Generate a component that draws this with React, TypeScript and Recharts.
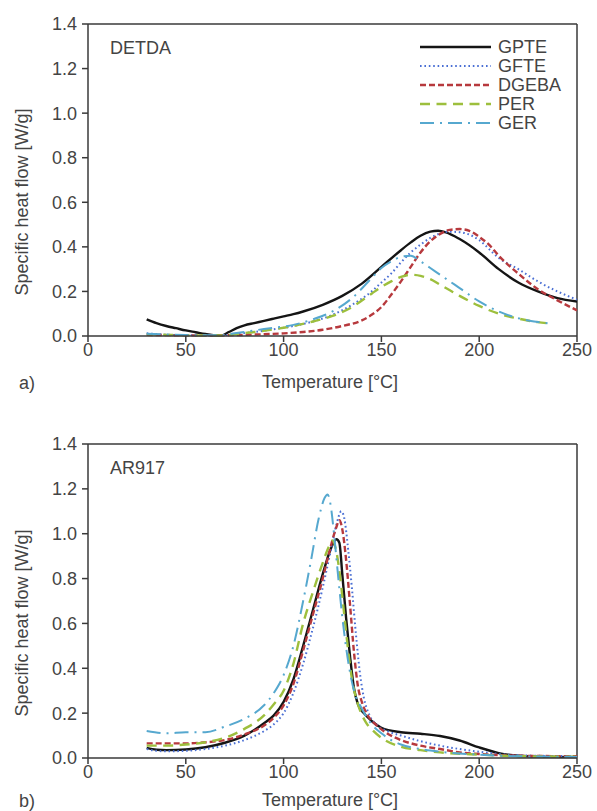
import React from 'react';
import { LineChart, Line, XAxis, YAxis, ReferenceLine } from 'recharts';

type Pt = [number, number];

// x ticks / y ticks
const tempTicks = [0, 50, 100, 150, 200, 250];
const flowTicks = [0, 0.2, 0.4, 0.6, 0.8, 1.0, 1.2, 1.4];

const seriesNames = ['GPTE', 'GFTE', 'DGEBA', 'PER', 'GER'];

// a) DETDA  [temperature °C, W/g]
const detdaGPTE: Pt[] = [[30, 0.075], [35, 0.058], [40, 0.045], [45, 0.035], [50, 0.025], [55, 0.017], [60, 0.009], [65, 0.003], [68, 0.002], [72, 0.018], [76, 0.035], [80, 0.048], [85, 0.058], [90, 0.068], [95, 0.078], [100, 0.088], [105, 0.098], [110, 0.11], [120, 0.14], [130, 0.18], [140, 0.235], [150, 0.31], [160, 0.385], [165, 0.42], [170, 0.45], [175, 0.468], [179, 0.472], [183, 0.465], [190, 0.435], [200, 0.375], [210, 0.3], [220, 0.24], [230, 0.2], [240, 0.17], [250, 0.155]];
const detdaGFTE: Pt[] = [[30, 0.012], [40, 0.006], [50, 0.004], [60, 0.002], [68, 0.002], [75, 0.008], [85, 0.018], [95, 0.03], [105, 0.045], [115, 0.065], [125, 0.095], [135, 0.14], [145, 0.2], [150, 0.24], [155, 0.28], [160, 0.33], [165, 0.375], [170, 0.41], [175, 0.44], [180, 0.46], [185, 0.468], [190, 0.466], [195, 0.455], [200, 0.43], [210, 0.35], [220, 0.3], [230, 0.245], [240, 0.2], [250, 0.163]];
const detdaDGEBA: Pt[] = [[30, 0.005], [40, 0.004], [50, 0.003], [60, 0.002], [70, 0.003], [80, 0.005], [90, 0.008], [100, 0.012], [110, 0.018], [120, 0.028], [130, 0.045], [140, 0.07], [145, 0.095], [150, 0.13], [155, 0.185], [160, 0.245], [165, 0.31], [170, 0.375], [175, 0.425], [180, 0.458], [185, 0.476], [190, 0.48], [195, 0.472], [200, 0.445], [205, 0.41], [210, 0.36], [220, 0.28], [230, 0.21], [240, 0.16], [250, 0.115]];
const detdaPER: Pt[] = [[30, 0.008], [40, 0.005], [50, 0.003], [60, 0.002], [68, 0.002], [75, 0.008], [85, 0.018], [95, 0.03], [105, 0.045], [115, 0.065], [125, 0.09], [135, 0.13], [145, 0.19], [150, 0.22], [155, 0.245], [160, 0.265], [165, 0.275], [170, 0.27], [175, 0.255], [180, 0.23], [185, 0.205], [190, 0.18], [200, 0.135], [210, 0.1], [220, 0.078], [230, 0.062], [235, 0.057]];
const detdaGER: Pt[] = [[30, 0.01], [40, 0.007], [50, 0.004], [60, 0.003], [68, 0.003], [75, 0.012], [85, 0.025], [95, 0.037], [105, 0.05], [115, 0.075], [125, 0.11], [135, 0.17], [145, 0.26], [150, 0.305], [155, 0.335], [160, 0.355], [165, 0.36], [170, 0.335], [175, 0.305], [180, 0.275], [185, 0.245], [190, 0.215], [200, 0.155], [210, 0.11], [220, 0.08], [230, 0.063], [235, 0.057]];

// b) AR917
const ar917GPTE: Pt[] = [[30, 0.045], [35, 0.037], [40, 0.035], [50, 0.038], [60, 0.048], [70, 0.068], [80, 0.1], [90, 0.155], [95, 0.19], [100, 0.25], [105, 0.35], [110, 0.5], [115, 0.66], [120, 0.82], [124, 0.93], [127, 0.975], [128.5, 0.96], [130, 0.82], [132, 0.62], [134, 0.45], [136, 0.31], [138, 0.24], [141, 0.2], [145, 0.165], [150, 0.135], [160, 0.115], [170, 0.108], [180, 0.098], [190, 0.078], [200, 0.047], [210, 0.022], [220, 0.01], [230, 0.006], [250, 0.004]];
const ar917GFTE: Pt[] = [[30, 0.04], [35, 0.032], [40, 0.03], [50, 0.032], [60, 0.04], [70, 0.055], [80, 0.08], [90, 0.12], [95, 0.15], [100, 0.2], [105, 0.29], [110, 0.42], [115, 0.58], [120, 0.76], [124, 0.92], [127, 1.04], [129.5, 1.1], [131, 1.07], [133, 0.93], [135, 0.75], [137, 0.55], [139, 0.38], [141, 0.27], [144, 0.19], [148, 0.145], [153, 0.12], [160, 0.1], [170, 0.075], [180, 0.055], [190, 0.04], [200, 0.028], [210, 0.018], [220, 0.012], [250, 0.008]];
const ar917DGEBA: Pt[] = [[30, 0.065], [40, 0.065], [50, 0.065], [60, 0.07], [70, 0.08], [80, 0.105], [90, 0.145], [95, 0.18], [100, 0.235], [105, 0.33], [110, 0.48], [115, 0.64], [120, 0.8], [124, 0.94], [127, 1.03], [128.5, 1.06], [130, 1.02], [132, 0.88], [134, 0.68], [136, 0.47], [138, 0.32], [140, 0.25], [143, 0.19], [147, 0.15], [152, 0.115], [160, 0.08], [170, 0.055], [180, 0.04], [190, 0.025], [200, 0.018], [220, 0.01], [250, 0.008]];
const ar917PER: Pt[] = [[30, 0.055], [40, 0.055], [50, 0.06], [60, 0.07], [70, 0.09], [80, 0.13], [90, 0.19], [95, 0.24], [100, 0.3], [105, 0.42], [110, 0.6], [115, 0.74], [120, 0.87], [123, 0.94], [125, 0.97], [127, 0.92], [129, 0.8], [131, 0.64], [133, 0.48], [135, 0.35], [138, 0.24], [142, 0.16], [146, 0.12], [150, 0.09], [160, 0.05], [170, 0.035], [180, 0.025], [200, 0.015], [220, 0.008], [250, 0.006]];
const ar917GER: Pt[] = [[30, 0.12], [40, 0.11], [50, 0.115], [60, 0.115], [70, 0.14], [80, 0.175], [90, 0.235], [95, 0.29], [100, 0.37], [105, 0.5], [110, 0.7], [114, 0.88], [118, 1.07], [121, 1.16], [122.5, 1.175], [124, 1.13], [126, 0.98], [128, 0.8], [130, 0.63], [132, 0.49], [134, 0.38], [136, 0.3], [140, 0.22], [145, 0.15], [150, 0.11], [155, 0.08], [160, 0.06], [170, 0.04], [180, 0.028], [200, 0.015], [220, 0.008], [250, 0.005]];

const styles = [
  { color: '#151515', dash: undefined, width: 2.4 },
  { color: '#4a6fd4', dash: '1.6 2.8', width: 2 },
  { color: '#b7393d', dash: '6 3', width: 2.4 },
  { color: '#9dbf3d', dash: '10 6.5', width: 2.4 },
  { color: '#56a8cf', dash: '14 6 2 6', width: 2 },
];

const FONT = '"Liberation Sans", Arial, sans-serif';
const AXIS = '#3a3a3a';
const TXT = '#444';

const toRows = (pts: Pt[]) => pts.map(([t, v]) => ({ t, v }));

const textStyle: React.CSSProperties = {
  position: 'absolute', fontFamily: FONT, fontSize: 18, lineHeight: '18px', color: TXT, whiteSpace: 'nowrap',
};

function LegendBox() {
  return (
    <div style={{ ...textStyle, left: 420, top: 38 }}>
      {seriesNames.map((n, i) => (
        <div key={n} style={{ display: 'flex', alignItems: 'center', height: 18.8 }}>
          <svg width={72} height={6} style={{ marginRight: 6 }}>
            <line x1={0} y1={3} x2={71} y2={3} stroke={styles[i].color} strokeWidth={styles[i].width}
              strokeDasharray={styles[i].dash} />
          </svg>
          <span>{n}</span>
        </div>
      ))}
    </div>
  );
}

function Panel({ series, tag, letter, top, height, bottom, labelGap, showLegend }: {
  series: Pt[][]; tag: string; letter: string; top: number; height: number; bottom: number;
  labelGap: number; showLegend?: boolean;
}) {
  const plotTop = 24;
  const plotBottom = height - bottom - 30;
  const yMid = (plotTop + plotBottom) / 2 + 22;
  return (
    <div style={{ position: 'absolute', left: 0, top, width: 597, height }}>
      <LineChart width={597} height={height} margin={{ top: plotTop, right: 20, bottom, left: 28 }}>
        <XAxis type="number" dataKey="t" domain={[0, 250]} ticks={tempTicks} allowDataOverflow
          stroke={AXIS} strokeWidth={1.5} tickSize={6} tickMargin={1} height={30}
          tick={{ fontSize: 18, fill: TXT, fontFamily: FONT }} />
        <YAxis type="number" domain={[0, 1.4]} ticks={flowTicks} width={60}
          tickFormatter={(v: number) => v.toFixed(1)}
          stroke={AXIS} strokeWidth={1.5} tickSize={6} tickMargin={5}
          tick={{ fontSize: 18, fill: TXT, fontFamily: FONT }} />
        <ReferenceLine y={1.4} stroke={AXIS} strokeWidth={1.5} />
        <ReferenceLine x={250} stroke={AXIS} strokeWidth={1.5} />
        {series.map((pts, i) => (
          <Line key={seriesNames[i]} name={seriesNames[i]} data={toRows(pts)} dataKey="v" type="monotone"
            stroke={styles[i].color} strokeWidth={styles[i].width} strokeDasharray={styles[i].dash}
            dot={false} activeDot={false} isAnimationActive={false} />
        ))}
      </LineChart>
      {showLegend && <LegendBox />}
      <div style={{ ...textStyle, left: 110, top: 38.5 }}>{tag}</div>
      <div style={{ ...textStyle, left: 19, top: plotBottom + labelGap + 1 }}>{letter}</div>
      <div style={{ ...textStyle, left: 180, width: 300, textAlign: 'center', top: plotBottom + labelGap }}>
        Temperature [°C]
      </div>
      <div style={{
        ...textStyle, left: 22 - 150, top: yMid - 9, width: 300, textAlign: 'center',
        transform: 'rotate(-90deg)', transformOrigin: '150px 9px',
      }}>
        Specific heat flow [W/g]
      </div>
    </div>
  );
}

export default function App() {
  return (
    <div style={{ position: 'absolute', left: 0, top: 0, width: 597, height: 811, background: '#fff', overflow: 'hidden' }}>
      <Panel series={[detdaGPTE, detdaGFTE, detdaDGEBA, detdaPER, detdaGER]} tag="DETDA" letter="a)"
        top={0} height={400} bottom={34} labelGap={36.5} showLegend />
      <Panel series={[ar917GPTE, ar917GFTE, ar917DGEBA, ar917PER, ar917GER]} tag="AR917" letter="b)"
        top={420} height={391} bottom={23} labelGap={33} />
    </div>
  );
}
